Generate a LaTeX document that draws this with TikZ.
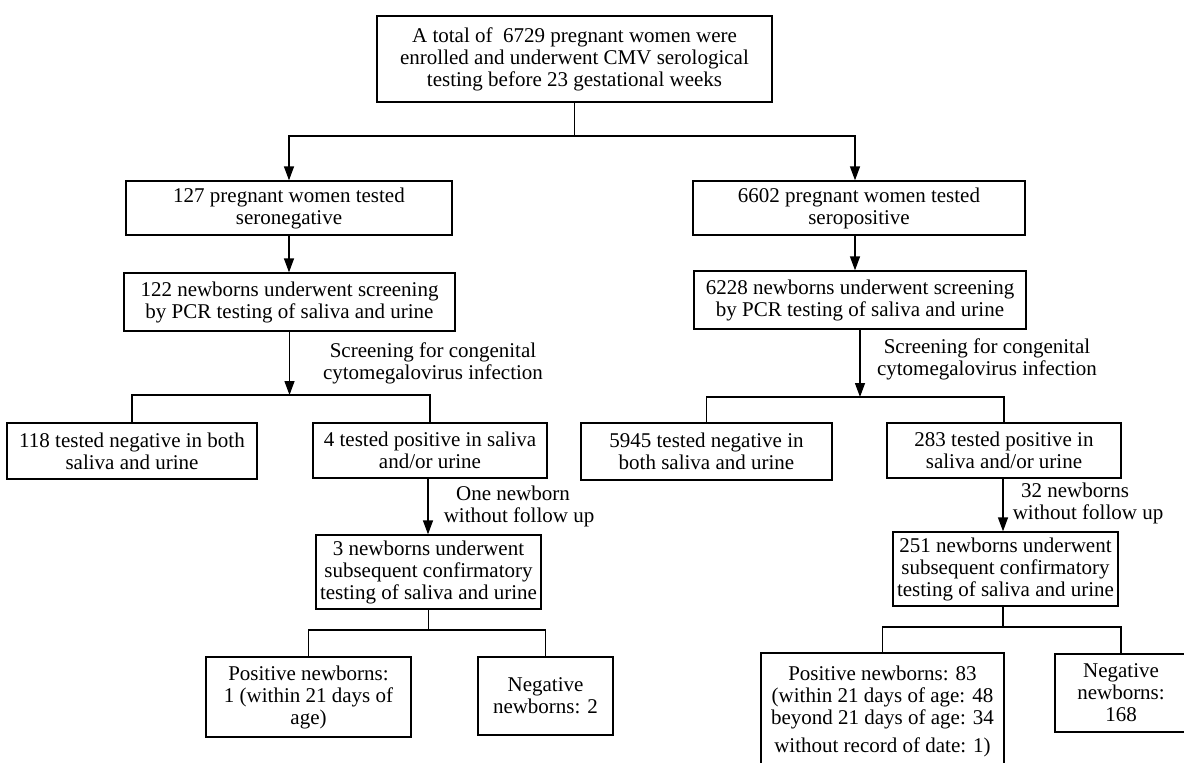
\documentclass[tikz,border=0pt]{standalone}
\usepackage{fontspec}
\setmainfont{Liberation Serif}
\usetikzlibrary{arrows.meta}
\begin{document}
\begin{tikzpicture}[x=1pt,y=-1pt,
  box/.style={draw,line width=1.3pt,inner sep=0pt,align=center,font=\fontsize{21}{22}\selectfont},
  lbl/.style={inner sep=0pt,align=center,font=\fontsize{21}{22}\selectfont},
  conn/.style={line width=1.3pt},
  arr/.style={line width=1.3pt,-{Triangle[length=14pt,width=10pt]}}]
\useasboundingbox (0,0) rectangle (1184,763);
\clip (0,0) rectangle (1184,763);
\fill[white] (0,0) rectangle (1184,763);
% boxes
\node[box,minimum width=395pt,minimum height=86pt] (top) at (574.5,59) {A total of \ 6729 pregnant women were\\enrolled and underwent CMV serological\\testing before 23 gestational weeks};
\node[box,minimum width=326pt,minimum height=54pt] (neg127) at (289,208) {127 pregnant women tested\\seronegative};
\node[box,minimum width=332pt,minimum height=54pt] (pos6602) at (859,208) {6602 pregnant women tested\\seropositive};
\node[box,minimum width=331pt,minimum height=58pt] (scr122) at (289.5,302) {122 newborns underwent screening\\by PCR testing of saliva and urine};
\node[box,minimum width=332pt,minimum height=58pt] (scr6228) at (860,300) {6228 newborns underwent screening\\by PCR testing of saliva and urine};
\node[box,minimum width=250pt,minimum height=56pt] (neg118) at (132,451) {118 tested negative in both\\saliva and urine};
\node[box,minimum width=234pt,minimum height=55pt] (pos4) at (430,450.5) {4 tested positive in saliva\\and/or urine};
\node[box,minimum width=251pt,minimum height=57pt] (neg5945) at (706.5,451.5) {5945 tested negative in\\both saliva and urine};
\node[box,minimum width=234pt,minimum height=55pt] (pos283) at (1004,450.5) {283 tested positive in\\saliva and/or urine};
\node[box,minimum width=225pt,minimum height=74pt] (conf3) at (428.5,572) {3 newborns underwent\\subsequent confirmatory\\testing of saliva and urine};
\node[box,minimum width=225pt,minimum height=74pt] (conf251) at (1005.5,569) {251 newborns underwent\\subsequent confirmatory\\testing of saliva and urine};
\node[box,minimum width=205pt,minimum height=80pt] (posnb1) at (308.5,697) {Positive newborns:\\1 (within 21 days of\\age)};
\node[box,minimum width=135pt,minimum height=78pt] (negnb2) at (545.5,696) {Negative\\newborns: 2};
\node[box,minimum width=243pt,minimum height=116pt] (posnb83) at (882.5,711) {Positive newborns: 83\\(within 21 days of age: 48\\beyond 21 days of age: 34\\[6pt]without record of date: 1)};
\node[box,minimum width=132pt,minimum height=78pt] (negnb168) at (1121,693) {Negative\\newborns:\\168};
% labels
\node[lbl] (l1) at (433,363) {Screening for congenital\\cytomegalovirus infection};
\node[lbl] (l2) at (987,359.5) {Screening for congenital\\cytomegalovirus infection};
\node[lbl] (l3) at (519,506) {One newborn\hspace*{12pt}\\without follow up};
\node[lbl] (l4) at (1088,503) {32 newborns\hspace*{26pt}\\without follow up};
% connectors
\coordinate (j1) at (574.5,136);
\draw[conn] (top.south) -- (j1);
\draw[arr] (j1) -| (neg127.north);
\draw[arr] (j1) -| ([xshift=-4pt]pos6602.north);
\draw[arr] (neg127.south) -- (neg127.south |- scr122.north);
\draw[arr] ([xshift=-4pt]pos6602.south) -- ([xshift=-4pt]pos6602.south |- scr6228.north);
\coordinate (b1) at (289.5,395);
\draw[arr] (scr122.south) -- (b1);
\draw[conn] (neg118.north) |- (b1) -| (pos4.north);
\coordinate (b2) at (860,397);
\draw[arr] (scr6228.south) -- (b2);
\draw[conn] (neg5945.north) |- (b2) -| (pos283.north);
\draw[arr] ([xshift=-2pt]pos4.south) -- ([xshift=-2pt]pos4.south |- conf3.north);
\draw[arr] ([xshift=-1pt]pos283.south) -- ([xshift=-1pt]pos283.south |- conf251.north);
\coordinate (b3) at (428.5,630);
\draw[conn] (conf3.south) -- (b3);
\draw[conn] (posnb1.north) |- (b3) -| (negnb2.north);
\coordinate (b4) at (1003,627);
\draw[conn] (conf251.south -| b4) -- (b4);
\draw[conn] (posnb83.north) |- (b4) -| (negnb168.north);
\end{tikzpicture}
\end{document}
